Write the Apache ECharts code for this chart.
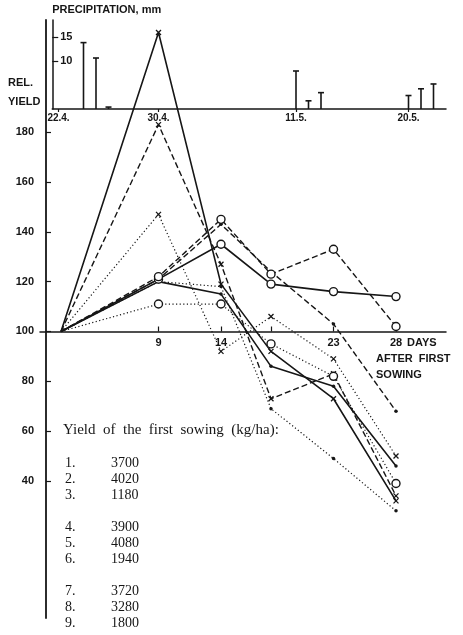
<!DOCTYPE html>
<html>
<head>
<meta charset="utf-8">
<script src="https://cdn.jsdelivr.net/npm/echarts@6/dist/echarts.min.js"></script>
<style>html,body{margin:0;padding:0;background:#fff}#c{width:463px;height:635px}</style>
</head>
<body>
<div id="c"></div>
<script>
// ---- data ----
var sowDays = [1.2, 9, 14, 18, 23, 28];
var seriesNames = ['1.', '2.', '3.', '4.', '5.', '6.', '7.', '8.', '9.'];
var firstYield = [3700, 4020, 1180, 3900, 4080, 1940, 3720, 3280, 1800];
var s1 = [100, 121, 135, 119, 116, 114];
var s2 = [100, 122, 145, 123, 133, 102];
var s3 = [100, 111, 111, 95, 82, 39];
var s4 = [100, 220, 119, 92, 73, 32];
var s5 = [100, 183, 127, 73, 83, 34];
var s6 = [100, 147, 92, 106, 89, 50];
var s7 = [100, 120, 115, 86, 78, 46];
var s8 = [100, 121, 143, 124, 103, 68];
var s9 = [100, 120, 118, 69, 49, 28];
var precipDays = [3, 4, 5, 20, 21, 22, 29, 30, 31];
var precipMm = [13.8, 10.6, 0.4, 7.9, 1.7, 3.4, 2.8, 4.2, 5.2];
var dateTickDays = [1, 9, 20, 29];
var dateTickLabels = ['22.4.', '30.4.', '11.5.', '20.5.'];
var dayTicks = [9, 14, 18, 23, 28];
var dayLabels = [9, 14, 23, 28];
var yieldTicks = [40, 60, 80, 100, 120, 140, 160, 180];
var precipTicks = [10, 15];

var INK = '#161616';
var SANS = "'Liberation Sans','DejaVu Sans',sans-serif";
var SERIF = "'Liberation Serif','DejaVu Serif',serif";

var chart = echarts.init(document.getElementById('c'), null, {renderer: 'canvas'});

var allSeries = [s1, s2, s3, s4, s5, s6, s7, s8, s9];
var styles = ['solid', 'dashed', 'dotted'];
var markers = ['o', 'x', 'dot'];

function mkData(vals) {
  return vals.map(function (v, i) {
    var d = {value: [sowDays[i], v]};
    if (i === 0) d.symbol = 'none';
    return d;
  });
}

var lineSeries = allSeries.map(function (vals, k) {
  var st = styles[k % 3];
  var mk = markers[Math.floor(k / 3)];
  var lt = st === 'solid' ? 'solid' : (st === 'dashed' ? [6, 3] : [1.2, 2.4]);
  var lw = st === 'solid' ? 1.6 : (st === 'dashed' ? 1.4 : 1.2);
  var sym, size, item;
  if (mk === 'o') {
    sym = 'circle'; size = 8;
    item = {color: '#fff', borderColor: INK, borderWidth: 1.4};
  } else if (mk === 'x') {
    sym = 'path://M0 0L10 10M10 0L0 10'; size = 5;
    item = {color: INK, borderColor: INK, borderWidth: 1.3};
  } else {
    sym = 'circle'; size = 3.5;
    item = {color: INK, borderColor: INK, borderWidth: 0};
  }
  return {
    type: 'line', name: seriesNames[k],
    xAxisIndex: 1, yAxisIndex: 1,
    data: mkData(vals),
    symbol: sym, symbolSize: size,
    lineStyle: {color: INK, width: lw, type: lt},
    itemStyle: item,
    z: mk === 'o' ? 5 : 4,
    animation: false, silent: true
  };
});

var precipSeries = {
  type: 'custom', xAxisIndex: 0, yAxisIndex: 0,
  data: precipDays.map(function (d, i) { return [d, precipMm[i]]; }),
  renderItem: function (params, api) {
    var p0 = api.coord([api.value(0), 0]);
    var p1 = api.coord([api.value(0), api.value(1)]);
    return {
      type: 'group',
      children: [
        {type: 'line', shape: {x1: p0[0], y1: p0[1], x2: p1[0], y2: p1[1]}, style: {stroke: INK, lineWidth: 1.6}},
        {type: 'line', shape: {x1: p1[0] - 3, y1: p1[1], x2: p1[0] + 3, y2: p1[1]}, style: {stroke: INK, lineWidth: 1.6}}
      ]
    };
  },
  animation: false, silent: true
};

// legend text built from arrays
var graphics = [];
graphics.push({type: 'text', left: 63, top: 423, style: {text: 'Yield  of  the  first  sowing  (kg/ha):', font: '15px ' + SERIF, fill: INK}});
seriesNames.forEach(function (n, i) {
  var top = 456 + i * 16 + Math.floor(i / 3) * 16;
  graphics.push({type: 'text', left: 65, top: top, style: {text: n, font: '14px ' + SERIF, fill: INK}});
  graphics.push({type: 'text', left: 111, top: top, style: {text: String(firstYield[i]), font: '14px ' + SERIF, fill: INK}});
});
graphics.push({type: 'text', left: 8, top: 77, style: {text: 'REL.', font: 'bold 11px ' + SANS, fill: INK}});
graphics.push({type: 'text', left: 8, top: 96, style: {text: 'YIELD', font: 'bold 11px ' + SANS, fill: INK}});
graphics.push({type: 'text', left: 407, top: 337, style: {text: 'DAYS', font: 'bold 11px ' + SANS, fill: INK}});
graphics.push({type: 'text', left: 376, top: 353, style: {text: 'AFTER  FIRST', font: 'bold 11px ' + SANS, fill: INK}});
graphics.push({type: 'text', left: 376, top: 369, style: {text: 'SOWING', font: 'bold 11px ' + SANS, fill: INK}});

var axisFont = {color: INK, fontFamily: SANS, fontWeight: 'bold', fontSize: 11};

var option = {
  backgroundColor: '#fff',
  animation: false,
  grid: [
    {left: 52.25, top: 20, width: 393.75, height: 89},
    {left: 46, top: 20, width: 400, height: 598},
    {left: 40, top: 330.5, width: 406, height: 1}
  ],
  xAxis: [
    {
      type: 'value', gridIndex: 0, min: 0.5, max: 32,
      axisLine: {show: true, lineStyle: {color: INK, width: 1.5}},
      axisTick: {show: true, customValues: dateTickDays, length: 3, lineStyle: {color: INK, width: 1.2}},
      axisLabel: {show: true, customValues: dateTickDays, margin: 4,
        formatter: function (v) { var i = dateTickDays.indexOf(v); return i >= 0 ? dateTickLabels[i] : ''; },
        color: INK, fontFamily: SANS, fontWeight: 'bold', fontSize: 10},
      splitLine: {show: false}
    },
    {
      type: 'value', gridIndex: 1, min: 0, max: 32, show: false
    },
    {
      type: 'value', gridIndex: 2, min: -0.48, max: 32, position: 'bottom',
      axisLine: {show: true, lineStyle: {color: INK, width: 1.5}},
      axisTick: {show: true, inside: true, customValues: dayTicks, length: 5, lineStyle: {color: INK, width: 1.2}},
      axisLabel: Object.assign({show: true, customValues: dayLabels, margin: 6}, axisFont),
      splitLine: {show: false}
    }
  ],
  yAxis: [
    {
      type: 'value', gridIndex: 0, min: 0, max: 18.5,
      name: 'PRECIPITATION, mm', nameLocation: 'end', nameGap: 5,
      nameTextStyle: {align: 'left', color: INK, fontFamily: SANS, fontWeight: 'bold', fontSize: 11},
      axisLine: {show: true, lineStyle: {color: INK, width: 1.5}},
      axisTick: {show: true, inside: true, customValues: precipTicks, length: 6, lineStyle: {color: INK, width: 1.2}},
      axisLabel: Object.assign({show: true, inside: true, customValues: precipTicks, margin: 8}, axisFont),
      splitLine: {show: false}
    },
    {
      type: 'value', gridIndex: 1, min: -15, max: 225,
      axisLine: {show: true, lineStyle: {color: INK, width: 1.8}},
      axisTick: {show: true, inside: true, customValues: yieldTicks, length: 5, lineStyle: {color: INK, width: 1.2}},
      axisLabel: Object.assign({show: true, customValues: yieldTicks, margin: 12}, axisFont),
      splitLine: {show: false}
    },
    {
      type: 'value', gridIndex: 2, min: 0, max: 1, show: false
    }
  ],
  graphic: graphics,
  series: [precipSeries].concat(lineSeries)
};
chart.setOption(option);
</script>
</body>
</html>
